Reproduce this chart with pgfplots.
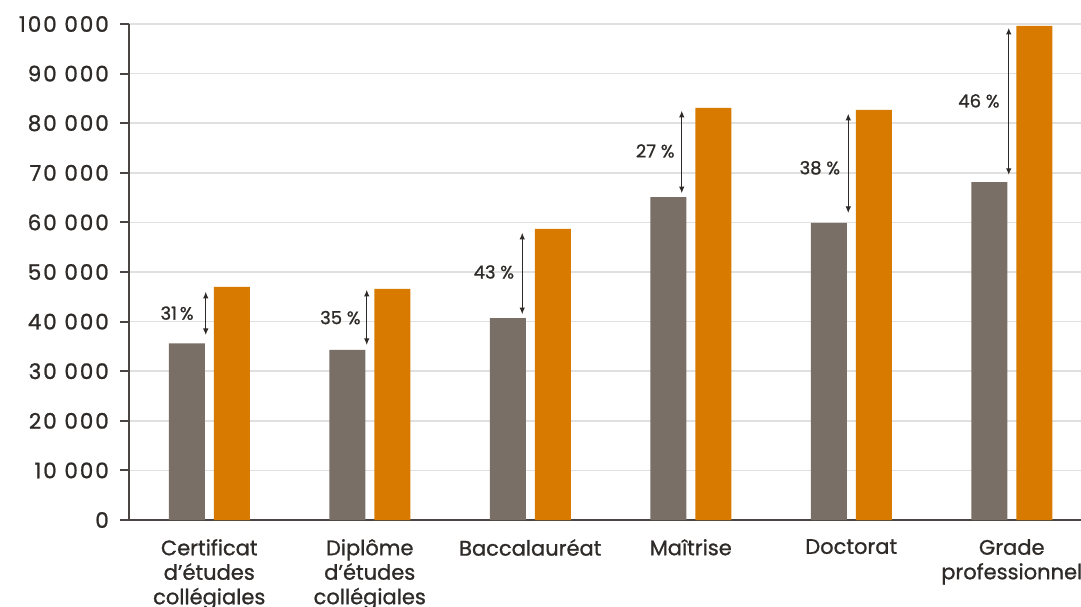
\documentclass[border=0pt]{standalone}
\usepackage{pgfplots}
\pgfplotsset{compat=1.18}
\usetikzlibrary{arrows.meta}
\usepackage{fontspec}
\setmainfont{Poppins}[FakeBold=1.0]
\newfontfamily\numfont{Poppins}[FakeBold=1.0, LetterSpace=9]
\definecolor{barGrey}{RGB}{122,111,102}
\definecolor{barOrange}{RGB}{217,122,0}
\definecolor{txt}{RGB}{45,42,40}
\definecolor{axisC}{RGB}{74,69,66}
\definecolor{gridC}{RGB}{224,224,224}
\begin{document}
\begin{tikzpicture}[x=1pt,y=1pt]
\useasboundingbox (0,0) rectangle (1081,606);
\clip (0,0) rectangle (1081,606);
\begin{axis}[
  at={(129pt,86pt)}, anchor=south west,
  width=963pt, height=496pt, scale only axis,
  xmin=-0.5, xmax=5.5, ymin=0, ymax=100000,
  axis lines=left,
  axis line style={-, draw=axisC, line width=2pt},
  scaled y ticks=false,
  ytick={0,10000,20000,30000,40000,50000,60000,70000,80000,90000,100000},
  yticklabels={0,10 000,20 000,30 000,40 000,50 000,60 000,70 000,80 000,90 000,100 000},
  ytick style={draw=axisC, line width=2pt},
  tick align=outside,
  major tick length=9pt,
  ymajorgrids,
  grid style={draw=gridC, line width=1.5pt},
  xtick={0,...,5},
  xtick style={draw=none},
  xticklabels={{Certificat\\d’études\\collégiales},{Diplôme\\d’études\\collégiales},{Baccalauréat},{Maîtrise},{Doctorat},{Grade\\professionnel}},
  xticklabel style={font=\fontsize{21}{24.5}\selectfont, text=txt, align=center, anchor=north, inner sep=0pt, yshift=-10pt},
  yticklabel style={font=\numfont\fontsize{21.5}{24}\selectfont, text=txt, anchor=east, inner sep=0pt, xshift=-11pt},
  clip=false,
]
\addplot[ybar, bar width=36pt, bar shift=-22.5pt, fill=barGrey, draw=none]
  coordinates {(0,35600) (1,34300) (2,40700) (3,65100) (4,59900) (5,68100)};
\addplot[ybar, bar width=36pt, bar shift=22.5pt, fill=barOrange, draw=none]
  coordinates {(0,47000) (1,46600) (2,58700) (3,83100) (4,82700) (5,99600)};
\tikzset{pctarrow/.style={{Latex[length=6.5pt,width=5.5pt]}-{Latex[length=6.5pt,width=5.5pt]}, draw=txt, line width=1pt},
         pctlab/.style={anchor=east, inner sep=0pt, text=txt, font=\fontsize{18}{20}\selectfont}}
\draw[pctarrow] ([xshift=-3.5pt]axis cs:0,46000) -- ([xshift=-3.5pt]axis cs:0,37300);
\node[pctlab] at ([xshift=-15.5pt]axis cs:0,41700) {31\,\%};
\draw[pctarrow] ([xshift=-3pt]axis cs:1,46400) -- ([xshift=-3pt]axis cs:1,35300);
\node[pctlab] at ([xshift=-9pt]axis cs:1,40800) {35 \%};
\draw[pctarrow] ([xshift=-8pt]axis cs:2,57900) -- ([xshift=-8pt]axis cs:2,41500);
\node[pctlab] at ([xshift=-16pt]axis cs:2,50000) {43 \%};
\draw[pctarrow] ([xshift=-9pt]axis cs:3,82500) -- ([xshift=-9pt]axis cs:3,65900);
\node[pctlab] at ([xshift=-16pt]axis cs:3,74400) {27 \%};
\draw[pctarrow] ([xshift=-3pt]axis cs:4,81900) -- ([xshift=-3pt]axis cs:4,61900);
\node[pctlab] at ([xshift=-11pt]axis cs:4,71000) {38 \%};
\draw[pctarrow] ([xshift=-3pt]axis cs:5,99200) -- ([xshift=-3pt]axis cs:5,69600);
\node[pctlab] at ([xshift=-12pt]axis cs:5,84500) {46 \%};
\end{axis}
\end{tikzpicture}
\end{document}
